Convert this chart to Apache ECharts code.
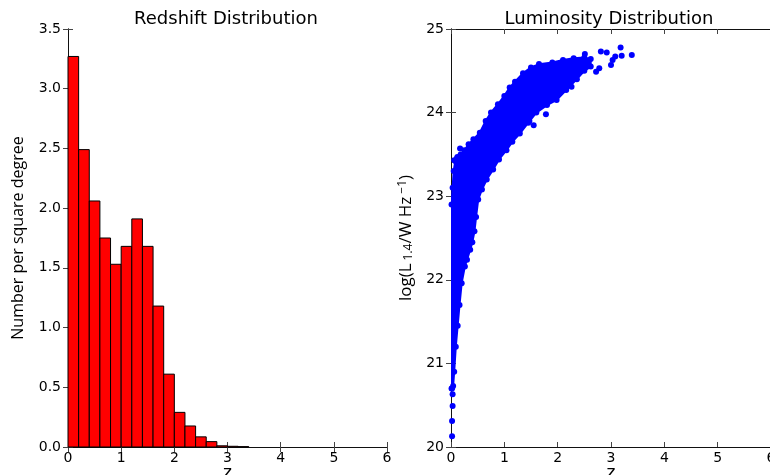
<!DOCTYPE html>
<html>
<head>
<meta charset="utf-8">
<script src="https://cdn.jsdelivr.net/npm/echarts@6/dist/echarts.min.js"></script>
<style>
  html, body { margin: 0; padding: 0; background: #fff; }
  #chart { width: 770px; height: 475px; }
</style>
</head>
<body>
<div id="chart"></div>
<script>
// Redshift histogram: bin edges and source density per bin
const binEdges = [0, 0.2, 0.4, 0.6, 0.8, 1.0, 1.2, 1.4, 1.6, 1.8, 2.0, 2.2, 2.4, 2.6, 2.8, 3.0, 3.2, 3.4];
const binCounts = [3.27, 2.49, 2.06, 1.75, 1.53, 1.68, 1.91, 1.68, 1.18, 0.61, 0.29, 0.176, 0.085, 0.045, 0.010, 0.006, 0.003];

// Luminosity vs redshift: outline of the dense cloud of sources (z, log L)
const cloudUpper = [
  [0.01, 22.90], [0.03, 23.10], [0.05, 23.30], [0.08, 23.42], [0.12, 23.47], [0.18, 23.50],
  [0.25, 23.55], [0.33, 23.62], [0.42, 23.68], [0.54, 23.76], [0.65, 23.90], [0.75, 24.00],
  [0.88, 24.10], [1.00, 24.20], [1.10, 24.30], [1.20, 24.37], [1.35, 24.47], [1.50, 24.54],
  [1.65, 24.58], [1.90, 24.60], [2.10, 24.63], [2.30, 24.65], [2.50, 24.66], [2.62, 24.64]
];
const cloudLower = [
  [2.62, 24.55], [2.50, 24.50], [2.36, 24.40], [2.16, 24.27], [1.98, 24.15], [1.80, 24.09],
  [1.60, 24.00], [1.45, 23.88], [1.29, 23.75], [1.15, 23.65], [1.04, 23.55], [0.90, 23.44],
  [0.79, 23.32], [0.67, 23.20], [0.58, 23.08], [0.51, 22.96], [0.47, 22.75], [0.44, 22.58],
  [0.40, 22.45], [0.36, 22.36], [0.30, 22.24], [0.26, 22.16], [0.20, 21.96], [0.16, 21.70],
  [0.125, 21.45], [0.09, 21.20], [0.06, 20.90], [0.04, 20.73], [0.02, 20.70], [0.01, 20.70]
];
// Isolated sources lying outside the main cloud
const straySources = [
  [3.18, 24.78], [3.39, 24.69], [3.20, 24.68], [3.00, 24.57], [2.92, 24.72], [2.81, 24.73],
  [2.51, 24.70], [3.08, 24.67], [3.03, 24.63], [2.78, 24.53], [2.72, 24.49], [2.26, 24.31],
  [1.78, 23.98], [1.55, 23.85], [1.47, 23.90], [0.17, 23.57], [0.11, 23.45], [0.06, 23.43],
  [0.03, 20.63], [0.03, 20.49], [0.02, 20.31], [0.02, 20.13]
];

const histData = binCounts.map((c, i) => [binEdges[i], binEdges[i + 1], c]);

const font = 'DejaVu Sans';
const axisColor = '#111';

function frameAxis(extra) {
  return Object.assign({
    type: 'value',
    axisLine: { show: true, lineStyle: { color: axisColor, width: 1 } },
    axisTick: { show: true, inside: true, length: 5, lineStyle: { color: '#444' } },
    splitLine: { show: false },
    axisLabel: { show: false }
  }, extra);
}

const chart = echarts.init(document.getElementById('chart'), null, { renderer: 'canvas' });

chart.setOption({
  animation: false,
  backgroundColor: '#fff',
  title: [
    { text: 'Redshift Distribution', left: 221, top: 5, textAlign: 'center',
      textStyle: { fontFamily: font, fontSize: 18, fontWeight: 'normal', color: '#000' } },
    { text: 'Luminosity Distribution', left: 604, top: 5, textAlign: 'center',
      textStyle: { fontFamily: font, fontSize: 18, fontWeight: 'normal', color: '#000' } }
  ],
  grid: [
    { left: 68, top: 29, width: 319, height: 418, outerBoundsMode: 'none', containLabel: false },
    { left: 451, top: 29, width: 320, height: 418, outerBoundsMode: 'none', containLabel: false }
  ],
  xAxis: [
    frameAxis({ gridIndex: 0, position: 'bottom', min: 0, max: 6, interval: 1,
      name: 'z', nameLocation: 'middle', nameGap: 18, nameMoveOverlap: false,
      nameTextStyle: { fontFamily: font, fontSize: 17, color: '#000' },
      axisLabel: { show: true, margin: 4, fontFamily: font, fontSize: 14, color: '#000' } }),
    frameAxis({ gridIndex: 0, position: 'top', min: 0, max: 6, interval: 1 }),
    frameAxis({ gridIndex: 1, position: 'bottom', min: 0, max: 6, interval: 1,
      name: 'z', nameLocation: 'middle', nameGap: 18, nameMoveOverlap: false,
      nameTextStyle: { fontFamily: font, fontSize: 17, color: '#000' },
      axisLabel: { show: true, margin: 4, fontFamily: font, fontSize: 14, color: '#000' } }),
    frameAxis({ gridIndex: 1, position: 'top', min: 0, max: 6, interval: 1 })
  ],
  yAxis: [
    frameAxis({ gridIndex: 0, position: 'left', min: 0, max: 3.5, interval: 0.5,
      name: 'Number per square degree', nameLocation: 'middle', nameGap: 42, nameMoveOverlap: false,
      nameTextStyle: { fontFamily: 'Open Sans', fontSize: 16, color: '#000' },
      axisLabel: { show: true, margin: 7, fontFamily: font, fontSize: 14, color: '#000',
        formatter: v => v.toFixed(1) } }),
    frameAxis({ gridIndex: 0, position: 'right', min: 0, max: 3.5, interval: 0.5 }),
    frameAxis({ gridIndex: 1, position: 'left', min: 20, max: 25, interval: 1,
      name: '{n|log(L}{sub|1.4}{n|/W Hz}{sup|−1}{n|)}', nameLocation: 'middle', nameGap: 36, nameMoveOverlap: false,
      nameTextStyle: {
        fontFamily: 'Open Sans', fontSize: 17, color: '#000',
        rich: {
          n: { fontFamily: 'Open Sans', fontSize: 17, color: '#000' },
          sub: { fontFamily: 'Open Sans', fontSize: 12, color: '#000', verticalAlign: 'bottom', padding: [6, 0, 0, 3] },
          sup: { fontFamily: 'Open Sans', fontSize: 12, color: '#000', verticalAlign: 'top', padding: [0, 0, 6, 3] }
        }
      },
      axisLabel: { show: true, margin: 7, fontFamily: font, fontSize: 14, color: '#000' } }),
    frameAxis({ gridIndex: 1, position: 'right', min: 20, max: 25, interval: 1 })
  ],
  series: [
    {
      type: 'custom',
      name: 'redshift',
      xAxisIndex: 0, yAxisIndex: 0,
      data: histData,
      encode: { x: [0, 1], y: 2 },
      renderItem: function (params, api) {
        const topLeft = api.coord([api.value(0), api.value(2)]);
        const bottomRight = api.coord([api.value(1), 0]);
        return {
          type: 'rect',
          shape: { x: topLeft[0], y: topLeft[1], width: bottomRight[0] - topLeft[0], height: bottomRight[1] - topLeft[1] },
          style: { fill: '#ff0000', stroke: '#000', lineWidth: 1 }
        };
      }
    },
    {
      type: 'custom',
      name: 'cloud',
      xAxisIndex: 2, yAxisIndex: 2,
      data: [0],
      clip: true,
      renderItem: function (params, api) {
        const pts = cloudUpper.concat(cloudLower).map(p => api.coord(p));
        return {
          type: 'polygon',
          shape: { points: pts },
          style: { fill: '#0000ff', stroke: '#0000ff', lineWidth: 2 }
        };
      }
    },
    {
      type: 'scatter',
      name: 'sources',
      xAxisIndex: 2, yAxisIndex: 2,
      symbol: 'circle',
      symbolSize: 6,
      itemStyle: { color: '#0000ff', opacity: 1 },
      data: cloudUpper.concat(cloudLower, straySources)
    }
  ]
});
</script>
</body>
</html>
